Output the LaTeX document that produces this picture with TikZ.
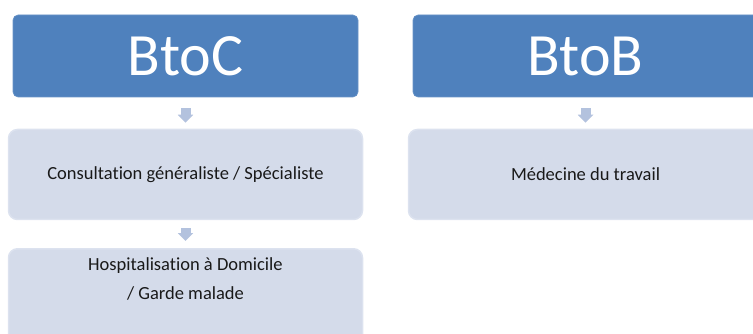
\documentclass[tikz,border=0pt]{standalone}
\usepackage{fontspec}
\setmainfont{Carlito}[Ligatures=NoCommon]
\usetikzlibrary{arrows.meta, positioning}

\definecolor{headblue}{HTML}{4F81BD}
\definecolor{itemfill}{HTML}{D4DBEA}
\definecolor{itemedge}{HTML}{DCE2EF}
\definecolor{flowblue}{HTML}{B3C2DE}

\tikzset{
  headbox/.style={fill=headblue, draw=headblue!85!white, line width=0.6pt,
    rounded corners=5pt, minimum width=345pt, minimum height=82pt,
    inner sep=0pt, text=white, font=\fontsize{60}{64}\selectfont},
  itembox/.style={fill=itemfill, draw=itemedge, line width=1.5pt,
    rounded corners=9pt, minimum width=354pt, minimum height=90pt,
    inner sep=0pt, text=black!90, font=\fontsize{18.5}{29}\selectfont},
  flow/.style={draw=flowblue, line width=10pt,
    -{Triangle[length=8pt, width=15pt]}}
}

\begin{document}
\begin{tikzpicture}[x=1pt, y=-1pt]
  \useasboundingbox (0,0) rectangle (753,334);

  % BtoC column
  \node[headbox] (btoc) at (185.5,56) {BtoC};
  \node[itembox] (consult) at (185.5,174.5) {Consultation généraliste / Spécialiste};
  \node[itembox, anchor=north, minimum height=100pt] (hosp) at (185.5,248) {};
  \node[align=center, font=\fontsize{18.5}{29}\selectfont, text=black!90,
    inner sep=0pt] (hosptext) at (185.5,279)
    {Hospitalisation à Domicile\\/ Garde malade};

  % BtoB column
  \node[headbox] (btob) at (585.5,56) {BtoB};
  \node[itembox] (travail) at (585.5,174.5) {Médecine du travail};

  % Flow arrows
  \draw[flow, shorten <=11pt, shorten >=6pt] (btoc) -- (consult);
  \draw[flow, shorten <=8pt, shorten >=7pt] (consult) -- (hosp);
  \draw[flow, shorten <=11pt, shorten >=6pt] (btob) -- (travail);
\end{tikzpicture}
\end{document}
